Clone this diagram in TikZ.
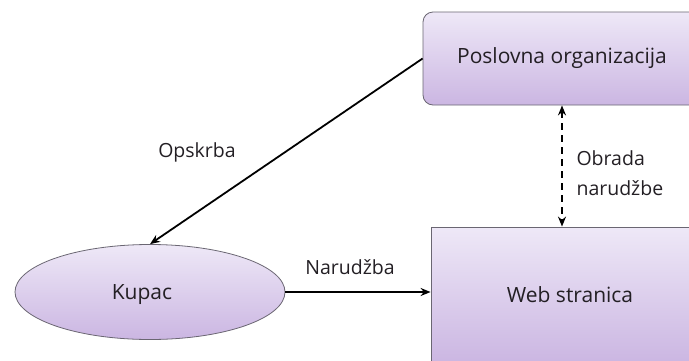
\documentclass[tikz,border=0pt]{standalone}
\usepackage{fontspec}
\setmainfont{Open Sans}
\usetikzlibrary{shapes.geometric}
\usetikzlibrary{arrows.meta}

\definecolor{lilatop}{HTML}{EEE8F7}
\definecolor{lilabot}{HTML}{CBB6E2}
\definecolor{rub}{HTML}{6A6672}
\definecolor{tekst}{HTML}{231F24}

\begin{document}
\begin{tikzpicture}[x=1pt, y=-1pt,
  kutija/.style={draw=rub, thick, top color=lilatop, bottom color=lilabot,
    text=tekst, font=\fontsize{21}{25}\selectfont, inner sep=0pt},
  strelica/.style={line width=1.8pt, -{Stealth[length=10pt, width=8pt]}},
  oznaka/.style={text=tekst, font=\fontsize{19.5}{30}\selectfont, align=left}]
\useasboundingbox (0,0) rectangle (689,360);
\clip (0,0) rectangle (689,360);

\node[kutija, rounded corners=10pt, minimum width=278pt, minimum height=93pt] (org) at (562,58.5) {Poslovna organizacija};
\node[kutija, minimum width=278pt, minimum height=136pt] (web) at (570,295) {Web stranica};
\node[kutija, ellipse, minimum width=270pt, minimum height=95pt] (kupac) at (150,292) {};
\node[text=tekst, font=\fontsize{21}{25}\selectfont] (kupactxt) at (142,295) {Kupac};

\draw[strelica] (org.west) -- (kupac.north);
\draw[strelica] (kupac.east) -- (kupac.east -| web.west);
\draw[strelica, dash pattern=on 7pt off 5pt, {Stealth[length=10pt, width=8pt]}-{Stealth[length=10pt, width=8pt]}]
  (org.south) -- (org.south |- web.north);

\node[oznaka] (opskrba) at (197,152) {Opskrba};
\node[oznaka] (narudzba) at (350,267) {Narudžba};
\node[oznaka, anchor=west] (obrada) at (573,173) {Obrada\\narudžbe};
\end{tikzpicture}
\end{document}
